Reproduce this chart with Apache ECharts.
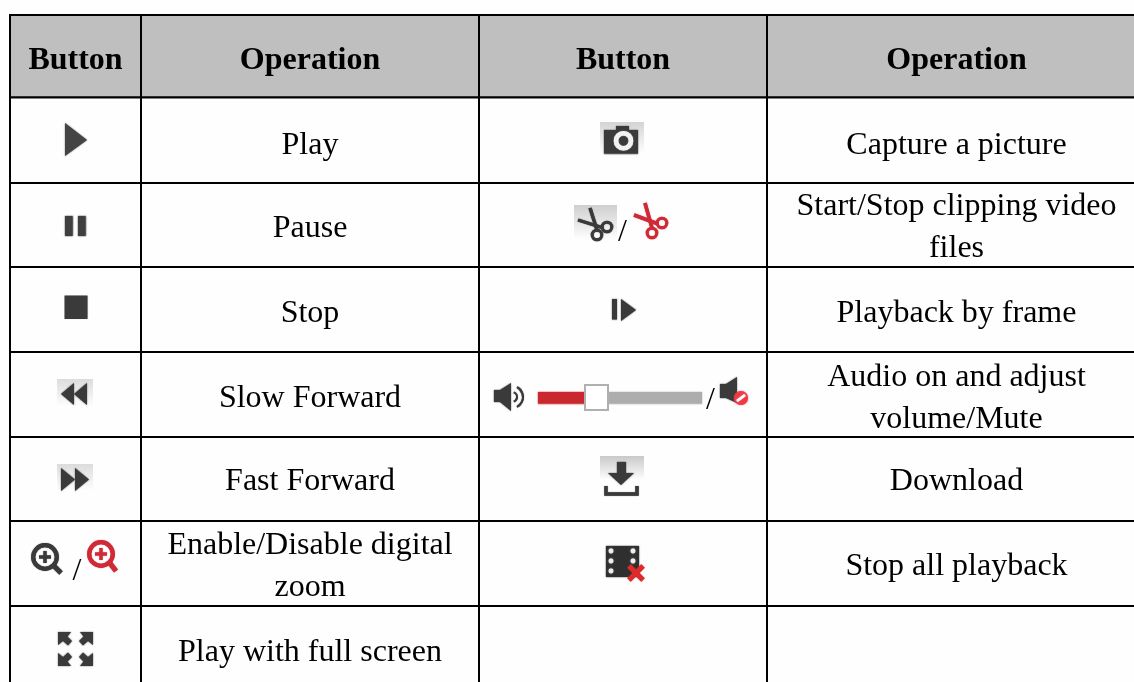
<!DOCTYPE html>
<html>
<head>
<meta charset="utf-8">
<style>html,body{margin:0;padding:0;background:#fefefe}#c{width:1134px;height:682px}</style>
<script src="https://cdn.jsdelivr.net/npm/echarts@6/dist/echarts.min.js"></script>
</head>
<body>
<div id="c"></div>
<script>
// ---- table content ----
const headers = ['Button', 'Operation', 'Button', 'Operation'];
const leftOperations = ['Play', 'Pause', 'Stop', 'Slow Forward', 'Fast Forward', 'Enable/Disable digital\nzoom', 'Play with full screen'];
const rightOperations = ['Capture a picture', 'Start/Stop clipping video\nfiles', 'Playback by frame', 'Audio on and adjust\nvolume/Mute', 'Download', 'Stop all playback', ''];
const leftButtons = ['play', 'pause', 'stop', 'slow', 'fast', 'zoom', 'full'];
const rightButtons = ['camera', 'clip', 'frame', 'audio', 'download', 'stopall', ''];
const columnEdges = [10, 141, 479, 767, 1146];
const rowEdges = [15, 97.5, 183, 267, 352, 437, 521, 606, 700];
const rowTextShift = [4, 5, 4, 4, 4, 3, 3, 0];

const FONT = '"Liberation Serif","Times New Roman",serif';
const DARK = '#3a3a3a', RED = '#cf2a35';

// ---- cells ----
const cells = [];
for (let r = 0; r < rowEdges.length - 1; r++) {
  for (let c = 0; c < 4; c++) {
    let text = '';
    if (r === 0) text = headers[c];
    else if (c === 1) text = leftOperations[r - 1];
    else if (c === 3) text = rightOperations[r - 1];
    let shift = rowTextShift[r];
    if (text.includes('\n')) shift = r === 4 ? 4 : 3;
    else if (r === 2) shift = 4;
    cells.push({ value: [columnEdges[c], rowEdges[r], columnEdges[c + 1], rowEdges[r + 1]], text, head: r === 0, shift });
  }
}

// ---- icons: each returns primitive descriptions in axis units ----
const grad = (top) => new echarts.graphic.LinearGradient(0, 0, 0, 1, [{ offset: 0, color: top }, { offset: 1, color: '#ffffff' }]);
const soft = (color, blur) => ({ shadowBlur: blur === undefined ? 1.5 : blur, shadowColor: color });
const poly = (pts, fill) => ({ k: 'polygon', pts, fill });
const rect = (x0, y0, x1, y1, fill, stroke, lw) => ({ k: 'rect', x0, y0, x1, y1, fill, stroke, lw });
const circ = (cx, cy, r, fill, stroke, lw) => ({ k: 'circle', cx, cy, r, fill, stroke, lw });
const line = (x0, y0, x1, y1, stroke, lw) => ({ k: 'line', x0, y0, x1, y1, stroke, lw });
const arc = (cx, cy, r, a0, a1, stroke, lw) => ({ k: 'arc', cx, cy, r, a0, a1, stroke, lw });
const txt = (x, y, text) => ({ k: 'text', x, y, text });

function magnifier(cx, cy, hx, hy, color) {
  return [
    line(cx + 8, cy + 8, hx, hy, color, 5),
    circ(cx, cy, 11.8, '#fff', color, 4.2),
    line(cx - 6, cy, cx + 6, cy, color, 3.2),
    line(cx, cy - 6, cx, cy + 6, color, 3.2)
  ];
}
function scissors(ax, ay, bx, by, r1x, r1y, r2x, r2y, color, lw) {
  return [
    line(ax, ay, r2x, r2y - 5, color, lw),
    line(bx, by, r1x - 5, r1y + 0.5, color, lw),
    circ(r1x, r1y, 4.8, 'rgba(255,255,255,0)', color, 3),
    circ(r2x, r2y, 4.8, 'rgba(255,255,255,0)', color, 3)
  ];
}

const iconParts = {
  play: () => [poly([[65, 123], [87, 140], [65, 156]], '#444')],
  pause: () => [rect(65, 216, 72.5, 236, '#3f3f3f'), rect(78, 216, 85.5, 236, '#3f3f3f')],
  stop: () => [rect(64.5, 295.5, 87.5, 319, DARK)],
  slow: () => [
    rect(57, 379, 93, 407, grad('#dcdcdc')),
    poly([[61, 394], [74, 383], [74, 405]], DARK),
    poly([[74, 394], [87, 383], [87, 405]], DARK)
  ],
  fast: () => [
    rect(57, 464, 93, 491, grad('#dcdcdc')),
    poly([[61, 468], [75, 479.5], [61, 491]], DARK),
    poly([[75, 468], [89, 479.5], [75, 491]], DARK)
  ],
  zoom: () => [
    ...magnifier(45, 557, 61, 573, DARK),
    txt(77, 572, '/'),
    ...magnifier(101, 554, 116, 571, RED)
  ],
  full: () => [
    poly([[58, 632], [71, 632], [67.5, 636.5], [72, 641], [68, 645.5], [63, 641], [58, 645]], DARK),
    poly([[93, 632], [80, 632], [83.5, 636.5], [79, 641], [83, 645.5], [88, 641], [93, 645]], DARK),
    poly([[58, 666], [71, 666], [67.5, 661.5], [72, 657], [68, 652.5], [63, 657], [58, 653]], DARK),
    poly([[93, 666], [80, 666], [83.5, 661.5], [79, 657], [83, 652.5], [88, 657], [93, 653]], DARK)
  ],
  camera: () => [
    rect(600, 122, 644, 154, grad('#d4d4d4')),
    rect(604, 130, 638, 153.5, DARK),
    rect(616, 126, 629, 131, DARK),
    circ(623.5, 140.7, 7.5, DARK, '#f2f2f2', 4.6)
  ],
  clip: () => [
    rect(574, 205, 617, 240, grad('#cfcfcf')),
    ...scissors(590, 208, 578, 220, 607, 227, 597, 235, DARK, 3.4),
    txt(622.5, 233, '/'),
    ...scissors(645, 203, 634, 215, 662, 223, 652, 233, RED, 3.6)
  ],
  frame: () => [rect(612, 299, 617, 319.5, DARK), poly([[621, 299], [636, 310], [621, 321]], DARK)],
  audio: () => [
    rect(494, 390, 501, 402, DARK),
    poly([[500, 390], [511, 383], [511, 411], [500, 402]], DARK),
    arc(512, 397, 5, -1.2, 1.2, DARK, 2),
    arc(512, 397, 11, -1.1, 1.1, DARK, 2),
    rect(538, 392, 586, 403.5, '#c9282f'),
    rect(586, 392, 702, 403.5, '#adadad'),
    rect(585, 385, 608, 410, '#ffffff', '#b0b0b0', 2),
    txt(710.5, 401, '/'),
    rect(720, 384, 727, 398, DARK),
    poly([[726, 384], [737, 377], [737, 403], [726, 398]], DARK),
    circ(741, 398, 7, '#ee3a45'),
    line(737, 401, 745, 395, '#ffffff', 2.6)
  ],
  download: () => [
    rect(600, 456, 644, 480, grad('#c9c9c9')),
    rect(617, 462, 626, 474, DARK),
    poly([[608, 473], [634, 473], [621, 485]], DARK),
    { k: 'poly', pts: [[606, 486], [606, 494], [637, 494], [637, 486]], stroke: DARK, lw: 3.4 }
  ],
  stopall: () => [
    rect(606, 546, 639, 577, '#2f2f2f'),
    circ(611, 551, 2.4, '#eee'), circ(611, 561, 2.4, '#eee'), circ(611, 571, 2.4, '#eee'),
    circ(633, 551, 2.4, '#eee'), circ(633, 561, 2.4, '#eee'),
    line(629, 566, 643, 580, '#dd2a2a', 5),
    line(643, 566, 629, 580, '#dd2a2a', 5)
  ]
};

const iconItems = [];
leftButtons.forEach(n => n && iconItems.push(n));
rightButtons.forEach(n => n && iconItems.push(n));

function toElement(p, api) {
  const at = (x, y) => api.coord([x, y]);
  const base = p.stroke && p.k !== 'text' ? soft(p.stroke, 1) : (p.fill && typeof p.fill === 'string' && p.fill !== '#ffffff' ? soft(p.fill) : {});
  if (p.k === 'polygon') return { type: 'polygon', shape: { points: p.pts.map(q => at(q[0], q[1])) }, style: { fill: p.fill, ...base } };
  if (p.k === 'poly') return { type: 'polyline', shape: { points: p.pts.map(q => at(q[0], q[1])) }, style: { fill: 'none', stroke: p.stroke, lineWidth: p.lw, ...base } };
  if (p.k === 'rect') {
    const a = at(p.x0, p.y0), b = at(p.x1, p.y1);
    return { type: 'rect', shape: { x: a[0], y: a[1], width: b[0] - a[0], height: b[1] - a[1] },
      style: { fill: p.fill, stroke: p.stroke || null, lineWidth: p.lw || 0, ...(p.stroke ? {} : base) } };
  }
  if (p.k === 'circle') {
    const a = at(p.cx, p.cy);
    return { type: 'circle', shape: { cx: a[0], cy: a[1], r: p.r }, style: { fill: p.fill, stroke: p.stroke || null, lineWidth: p.lw || 0, ...base } };
  }
  if (p.k === 'line') {
    const a = at(p.x0, p.y0), b = at(p.x1, p.y1);
    return { type: 'line', shape: { x1: a[0], y1: a[1], x2: b[0], y2: b[1] }, style: { stroke: p.stroke, lineWidth: p.lw, ...base } };
  }
  if (p.k === 'arc') {
    const a = at(p.cx, p.cy);
    return { type: 'arc', shape: { cx: a[0], cy: a[1], r: p.r, startAngle: p.a0, endAngle: p.a1, clockwise: true }, style: { fill: 'none', stroke: p.stroke, lineWidth: p.lw, ...base } };
  }
  const a = at(p.x, p.y);
  return { type: 'text', style: { text: p.text, x: a[0], y: a[1], fill: '#000', font: '32px ' + FONT, align: 'center', verticalAlign: 'middle' } };
}

const chart = echarts.init(document.getElementById('c'), null, { renderer: 'canvas' });
chart.setOption({
  animation: false,
  backgroundColor: '#fefefe',
  grid: { left: 0, right: 0, top: 0, bottom: 0 },
  xAxis: { type: 'value', min: 0, max: 1134, show: false },
  yAxis: { type: 'value', min: 0, max: 682, inverse: true, show: false },
  series: [
    {
      name: 'cells', type: 'custom', coordinateSystem: 'cartesian2d', clip: false, silent: true,
      data: cells.map(c => c.value),
      renderItem(params, api) {
        const cell = cells[params.dataIndex];
        const a = api.coord([api.value(0), api.value(1)]);
        const b = api.coord([api.value(2), api.value(3)]);
        const children = [{
          type: 'rect', shape: { x: a[0], y: a[1], width: b[0] - a[0], height: b[1] - a[1] },
          style: { fill: cell.head ? '#bfbfbf' : '#fefefe', stroke: '#000', lineWidth: 2 }
        }];
        if (cell.text) {
          children.push({
            type: 'text',
            style: {
              text: cell.text,
              x: (a[0] + b[0]) / 2,
              y: (a[1] + b[1]) / 2 + cell.shift,
              fill: '#000',
              font: (cell.head ? 'bold ' : '') + '32px ' + FONT,
              align: 'center', verticalAlign: 'middle', lineHeight: 42
            }
          });
        }
        return { type: 'group', children };
      }
    },
    {
      name: 'buttons', type: 'custom', coordinateSystem: 'cartesian2d', clip: false, silent: true,
      data: iconItems.map((n, i) => [i, 0]),
      renderItem(params, api) {
        const parts = iconParts[iconItems[params.dataIndex]]();
        return { type: 'group', children: parts.map(p => toElement(p, api)) };
      }
    }
  ]
});
</script>
</body>
</html>
